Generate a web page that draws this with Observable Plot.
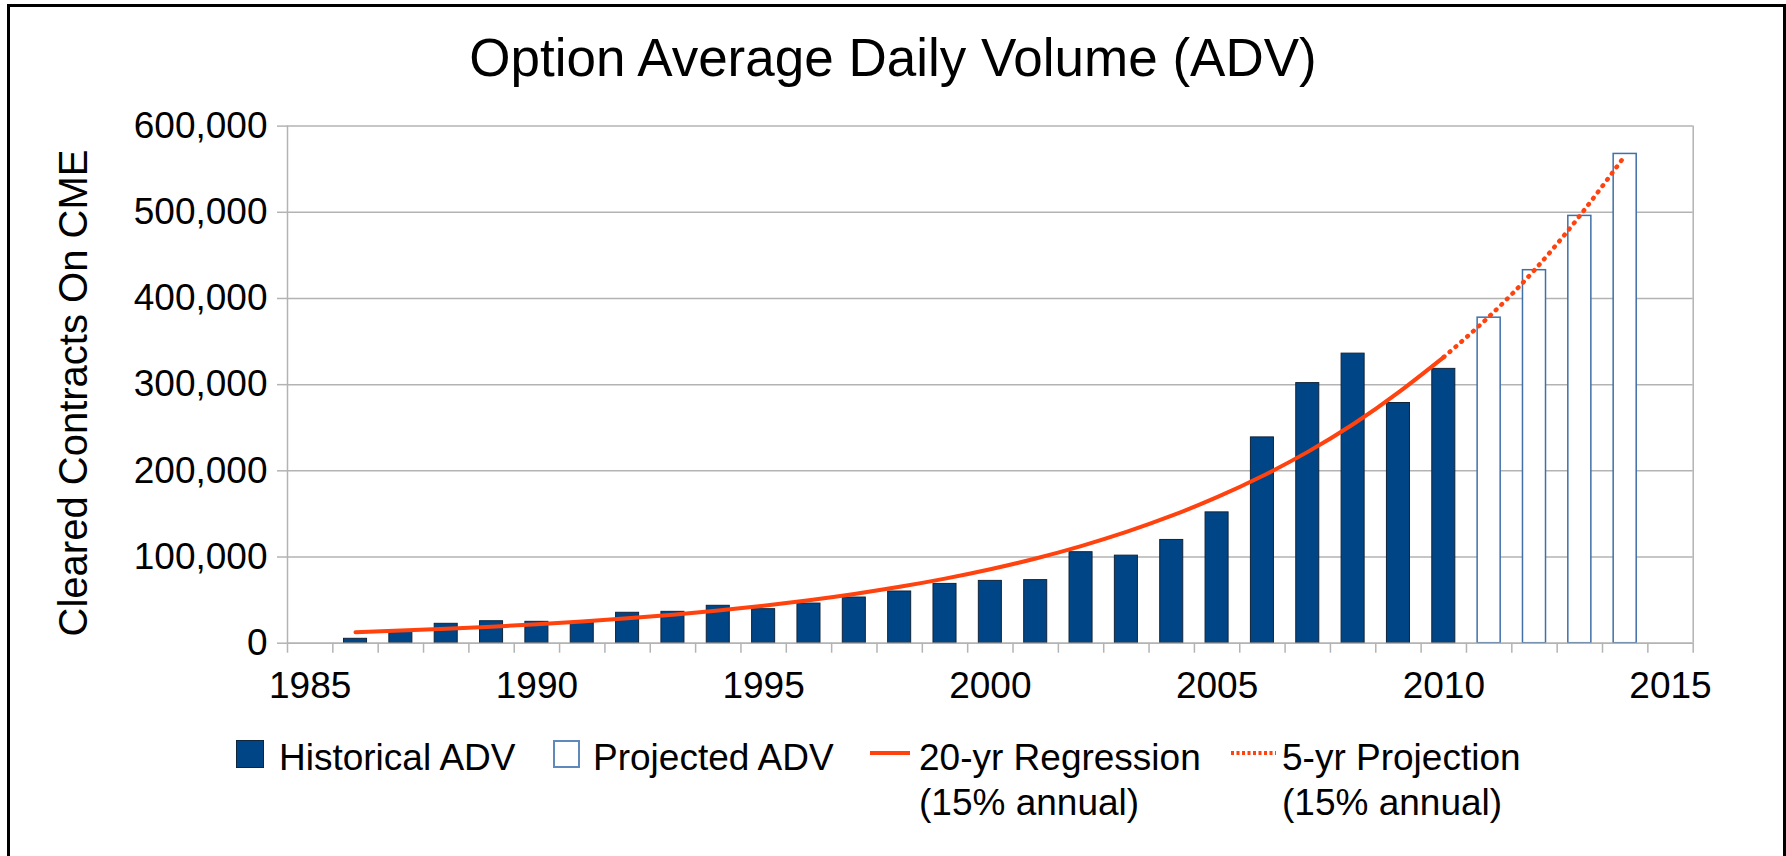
<!DOCTYPE html>
<html>
<head>
<meta charset="utf-8">
<script src="https://cdn.jsdelivr.net/npm/d3@7"></script>
<script src="https://cdn.jsdelivr.net/npm/@observablehq/plot@0.6"></script>
<style>
  html, body { margin: 0; padding: 0; background: #fff; }
  #wrap { position: relative; width: 1786px; height: 856px; overflow: hidden; background: #fff;
          font-family: "Liberation Sans", Arial, sans-serif; color: #000; }
  #frame { position: absolute; left: 7px; top: 4px; width: 1779px; height: 900px;
           border: 3px solid #000; box-sizing: border-box; pointer-events: none; }
  #title { position: absolute; left: 0; top: 31px; width: 1786px; text-align: center;
           font-size: 53px; line-height: 53px; white-space: nowrap; }
  #ylabel { position: absolute; left: -227px; top: 373px; width: 600px; height: 40px;
            line-height: 40px; font-size: 40px; text-align: center; white-space: nowrap;
            transform: rotate(-90deg); transform-origin: 50% 50%; }
  #chart { position: absolute; left: 0; top: 100px; }
  .lg { position: absolute; font-size: 37px; line-height: 45px; white-space: nowrap; top: 734.7px; }
  .sw { position: absolute; }
</style>
</head>
<body>
<div id="wrap">
  <div id="title">Option Average Daily Volume (ADV)</div>
  <div id="ylabel">Cleared Contracts On CME</div>
  <div id="chart"></div>
  <div id="legend"></div>
  <div id="frame"></div>
</div>
<script>
// ---- Data ----
const historicalYears = [1986, 1987, 1988, 1989, 1990, 1991, 1992, 1993, 1994, 1995, 1996, 1997, 1998,
                         1999, 2000, 2001, 2002, 2003, 2004, 2005, 2006, 2007, 2008, 2009, 2010];
const historicalADV = [5100, 13500, 22500, 25500, 24800, 24400, 35300, 36400, 43400, 39500, 46000, 53000, 60000,
                       68800, 72300, 73200, 105600, 101600, 119800, 151800, 238800, 301800, 336000, 278700, 318300];

const projectedYears = [2011, 2012, 2013, 2014];
const projectedADV = [377700, 432800, 495800, 567700];

const regressionYears = historicalYears;
const regressionADV = [12800, 14700, 16800, 19200, 22000, 25200, 28900, 33100, 38000, 43500, 49800, 57100, 65400,
                       74900, 85800, 98300, 112700, 129100, 147900, 169400, 194000, 222000, 254000, 291000, 332000];

const projectionYears = [2010, 2011, 2012, 2013, 2014];
const projectionADV = [332000, 379000, 433000, 496000, 566000];

const xTickLabels = [1985, 1990, 1995, 2000, 2005, 2010, 2015];
const yTickValues = [0, 100000, 200000, 300000, 400000, 500000, 600000];

const legendLabels = ["Historical ADV", "Projected ADV", "20-yr Regression", "5-yr Projection"];
const legendSubLabel = "(15% annual)";

// ---- Tables built from the arrays ----
const historical = historicalYears.map((year, i) => ({year, adv: historicalADV[i]}));
const projected = projectedYears.map((year, i) => ({year, adv: projectedADV[i]}));
const regression = regressionYears.map((year, i) => ({year, adv: regressionADV[i]}));
const projection = projectionYears.map((year, i) => ({year, adv: projectionADV[i]}));

const xDomain = [xTickLabels[0] - 0.5, xTickLabels[xTickLabels.length - 1] + 0.5];
const boundaries = d3.range(xDomain[0], xDomain[1] + 0.01, 1);
const half = 0.254;
const grid = "#b3b3b3";
const navy = "#004586";
const orange = "#ff420e";

const chart = Plot.plot({
  width: 1786,
  height: 620,
  marginTop: 25.6,
  marginBottom: 77.3,
  marginLeft: 287,
  marginRight: 93.3,
  x: {domain: xDomain},
  y: {domain: [0, 600000]},
  style: {fontFamily: '"Liberation Sans", Arial, sans-serif', fontSize: "37px", color: "#000", background: "transparent", overflow: "visible"},
  marks: [
    Plot.gridY(yTickValues, {stroke: grid, strokeOpacity: 1, strokeWidth: 1.5}),
    Plot.ruleX(xDomain, {stroke: grid, strokeWidth: 1.5}),
    Plot.axisY({ticks: yTickValues, tickSize: 10, tickPadding: 10, tickFormat: d3.format(","), stroke: grid, strokeWidth: 1.5, label: null, fontSize: 37}),
    Plot.axisX({ticks: boundaries, tickSize: 10, tickFormat: () => "", stroke: grid, strokeWidth: 1.5, label: null}),
    Plot.axisX({ticks: xTickLabels, tickSize: 0, tickPadding: 29, tickFormat: d => String(d), label: null, fontSize: 37}),
    Plot.rectY(historical, {x1: d => d.year - half, x2: d => d.year + half, y: "adv", fill: navy, stroke: "#10243a", strokeWidth: 1}),
    Plot.rectY(projected, {x1: d => d.year - half, x2: d => d.year + half, y: "adv", fill: "#fff", stroke: "#3f70a8", strokeWidth: 1.5}),
    Plot.ruleY([0], {stroke: grid, strokeWidth: 1.5}),
    Plot.line(regression, {x: "year", y: "adv", stroke: orange, strokeWidth: 4, curve: "natural"}),
    Plot.line(projection, {x: "year", y: "adv", stroke: orange, strokeWidth: 4.5, strokeDasharray: "0.8,7", strokeLinecap: "round", curve: "natural"})
  ]
});
document.getElementById("chart").appendChild(chart);

// ---- Legend ----
const legend = document.getElementById("legend");
function add(html) { legend.insertAdjacentHTML("beforeend", html); }
add(`<div class="sw" style="left:236px;top:740px;width:28px;height:28px;background:${navy};border:1px solid #10243a;box-sizing:border-box"></div>`);
add(`<div class="lg" style="left:279px">${legendLabels[0]}</div>`);
add(`<div class="sw" style="left:553px;top:740px;width:27px;height:28px;background:#fff;border:2px solid #5f88bb;box-sizing:border-box"></div>`);
add(`<div class="lg" style="left:593px">${legendLabels[1]}</div>`);
add(`<svg class="sw" style="left:870px;top:749px" width="40" height="8"><line x1="0" x2="40" y1="4" y2="4" stroke="${orange}" stroke-width="4"/></svg>`);
add(`<div class="lg" style="left:919px">${legendLabels[2]}<br>${legendSubLabel}</div>`);
add(`<svg class="sw" style="left:1231px;top:749px" width="45" height="8"><line x1="0" x2="45" y1="4" y2="4" stroke="${orange}" stroke-width="4" stroke-dasharray="3,2.5"/></svg>`);
add(`<div class="lg" style="left:1282px">${legendLabels[3]}<br>${legendSubLabel}</div>`);
</script>
</body>
</html>
